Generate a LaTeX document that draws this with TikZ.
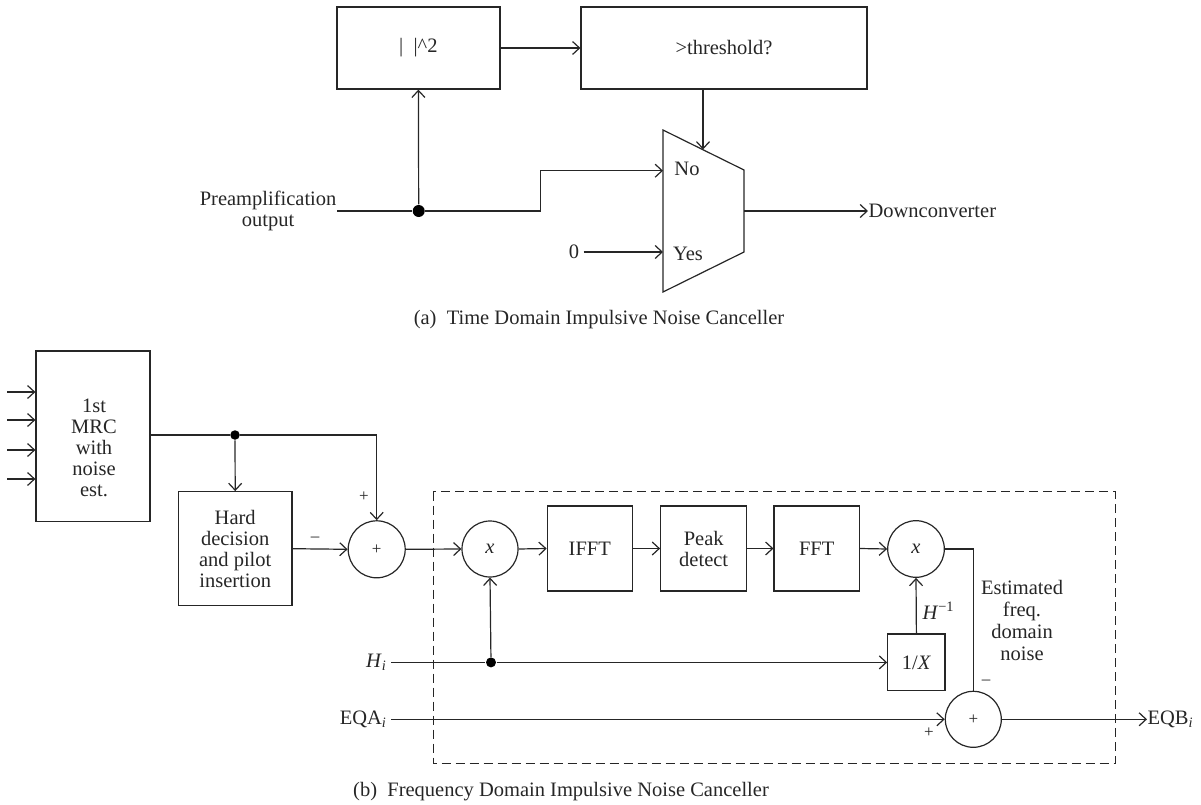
\documentclass[tikz,border=0pt]{standalone}
\usepackage{fontspec}
\setmainfont{Liberation Serif}
\usetikzlibrary{arrows.meta,calc}
\begin{document}
\begin{tikzpicture}[x=1pt,y=-1pt,line width=1.2pt,color=black!85,
  arr/.style={-{Straight Barb[length=7pt,width=13pt,line width=1.2pt]}},
  blk/.style={draw=black!85,rectangle,inner sep=0pt},
  sumc/.style={draw=black!85,circle,inner sep=0pt,minimum size=57pt},
  lbl/.style={inner sep=0pt,align=center},
  small/.style={inner sep=0pt,font=\fontsize{17}{17}\selectfont},
  junction/.style={circle,fill=black,draw=none,inner sep=0pt,minimum size=10pt},
  font=\fontsize{20.5}{21}\selectfont]
\useasboundingbox (0,0) rectangle (1201,805);

% ---------------- (a) ----------------
\node[blk,minimum width=163pt,minimum height=82pt] (sq) at (418.4,48) {|\,\,\,|\textasciicircum 2};
\node[blk,minimum width=286pt,minimum height=82pt] (thr) at (724,48) {>threshold?};
\draw[arr] (sq.east) -- (thr.west);

\coordinate (m1) at (663,130);
\coordinate (m2) at (744,170);
\coordinate (m3) at (744,252);
\coordinate (m4) at (663,292);
\draw (m1) -- (m2) -- (m3) -- (m4) -- cycle;
\coordinate (mt) at (703,149.5);
\draw[arr] (thr.south -| mt) -- (mt);
\node[lbl] (no) at (687,169) {No};
\node[lbl] (yes) at (688,254) {Yes};
\coordinate (inNo) at (663,170.7);
\coordinate (inYes) at (663,252);
\coordinate (outM) at (744,211);

\node[lbl,anchor=east] (pre) at (337,211) {Preamplification\\output};
\node[junction,minimum size=12pt] (j1) at (418.7,211) {};
\coordinate (stp) at (540.7,211);
\draw (pre.east) -- (j1);
\draw[arr] (j1) -- (stp) |- (inNo);
\draw[arr] (j1) -- (sq.south);
\node[lbl] (zero) at (574,252) {0};
\draw[arr] (zero.east) ++(4,0) -- (inYes);
\node[lbl,anchor=west] (down) at (868,211) {Downconverter};
\draw[arr] (outM) -- (down.west);

\node[lbl] (capa) at (599,320) {(a)\ \ Time Domain Impulsive Noise Canceller};

% ---------------- (b) ----------------
\draw[dash pattern=on 9pt off 5pt,line width=1pt] (433.3,491.7) rectangle (1115,763.3);

\node[blk,minimum width=114pt,minimum height=170.7pt] (mrc) at (93,436.4) {};
\node[lbl] (mrct) at (94,448) {1st\\MRC\\with\\noise\\est.};
\foreach \yy [count=\k] in {392,420,450,479}{
  \coordinate (in\k) at (7,\yy);
  \draw[arr] (in\k) -- (in\k -| mrc.west);
}

\node[junction,minimum size=9.5pt] (j2) at (235,435) {};
\node[blk,minimum width=113.7pt,minimum height=114pt,align=center] (hd) at (235.2,548.7) {Hard\\decision\\and pilot\\insertion};
\node[sumc] (s1) at (376.7,549.3) {\fontsize{17}{17}\selectfont +};
\draw (j2 -| mrc.east) -- (j2);
\draw[arr] (j2) -- (j2 -| s1) -- (s1.north);
\draw[arr] (j2) -- (hd.north);
\draw[arr] (hd.east) -- (s1.west);
\node[small] (minus1) at (315,539) {\textendash};
\node[small] (plus1) at (364,497) {+};

\node[sumc,minimum size=56pt] (x1) at (490,549) {\textit{x}};
\node[blk,minimum width=85pt,minimum height=85pt] (ifft) at (589.8,548.5) {IFFT};
\node[blk,minimum width=86pt,minimum height=85pt,align=center] (peak) at (703.7,548.5) {Peak\\detect};
\node[blk,minimum width=85.3pt,minimum height=85pt] (fft) at (816.7,548.5) {FFT};
\node[sumc,minimum size=56.6pt] (x2) at (916,549) {\textit{x}};
\draw[arr] (s1.east) -- (x1.west);
\draw[arr] (x1.east) -- (ifft.west);
\draw[arr] (ifft.east) -- (peak.west);
\draw[arr] (peak.east) -- (fft.west);
\draw[arr] (fft.east) -- (x2.west);

\node[blk,minimum width=57.3pt,minimum height=56.7pt] (ox) at (916.4,662.4) {1/\textit{X}};
\draw[arr] (ox.north) -- (x2.south);
\node[lbl,anchor=west] (hinv) at (922,611) {\textit{H}\textsuperscript{−1}};

\node[sumc,minimum size=56pt] (s2) at (973.3,719.3) {\fontsize{17}{17}\selectfont +};
\draw (x2.east) -- (x2.east -| s2) -- (s2.north);
\node[small] (minus2) at (986,682) {\textendash};
\node[small] (plus2) at (929,733) {+};
\node[lbl,font=\fontsize{20.5}{21.7}\selectfont] (est) at (1022,620.5) {Estimated\\freq.\\domain\\noise};

\node[lbl,anchor=east] (hi) at (387,662.4) {\textit{H}\textsubscript{\textit{i}}};
\node[junction,minimum size=10pt] (j3) at (491,662.4) {};
\draw (hi.east) ++(4,0) -- (j3);
\draw[arr] (j3) -- (ox.west);
\draw[arr] (j3) -- (x1.south);

\node[lbl,anchor=east] (eqa) at (387,719.3) {EQA\textsubscript{\textit{i}}};
\draw[arr] (eqa.east) ++(4,0) -- (s2.west);

\node[lbl,anchor=west] (eqb) at (1147,719.3) {EQB\textsubscript{\textit{i}}};
\draw[arr] (s2.east) -- (eqb.west);

\node[lbl] (capb) at (561,792) {(b)\ \ Frequency Domain Impulsive Noise Canceller};
\end{tikzpicture}
\end{document}
